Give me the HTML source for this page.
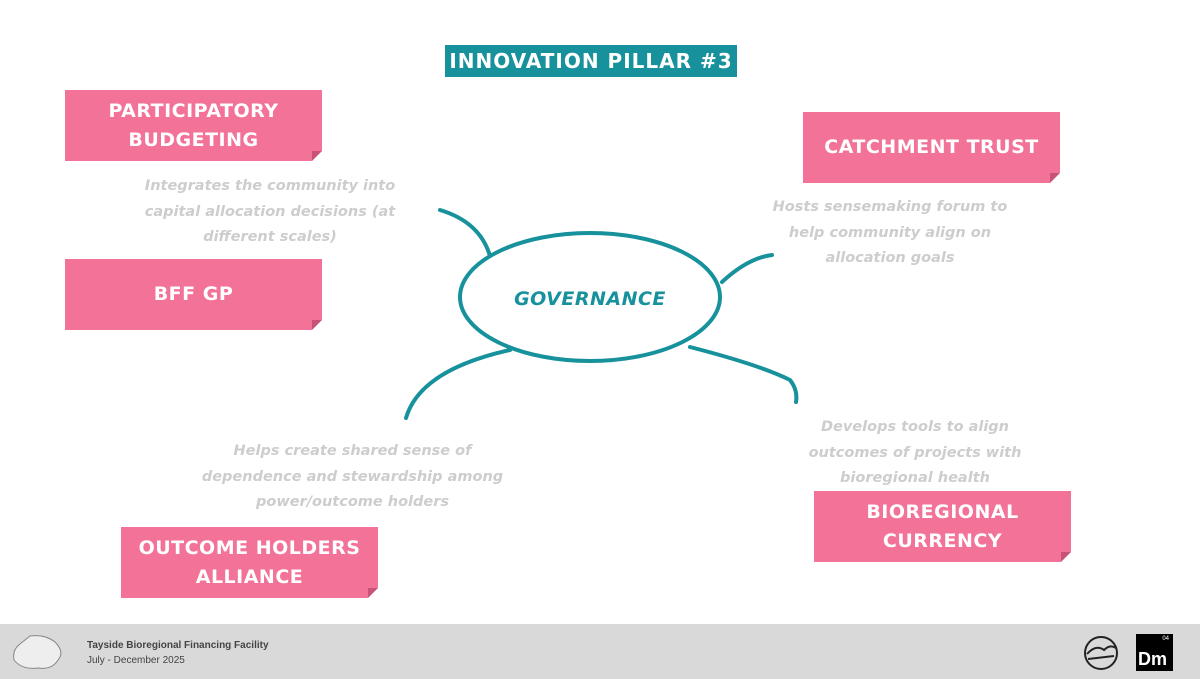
<!DOCTYPE html>
<html><head><meta charset="utf-8"><style>
body{margin:0;width:1200px;height:679px;position:relative;background:#fff;font-family:"DejaVu Sans","Liberation Sans",sans-serif;overflow:hidden}
.b{position:absolute;background:#f27298;color:#fff;font-weight:bold;font-size:19px;letter-spacing:0.5px;display:flex;align-items:center;justify-content:center;text-align:center;line-height:29px;width:257px;height:71px}
.b:after{content:"";position:absolute;right:0;bottom:0;border-style:solid;border-width:0 0 10px 10px;border-color:transparent transparent #fff #c85278}
.t{position:absolute;color:#cdcdcd;font-size:14.5px;text-align:center;line-height:25.5px;font-weight:bold;font-style:italic;letter-spacing:0px;white-space:nowrap}
.f{position:absolute;left:0;top:624px;width:1200px;height:55px;background:#d9d9d9}
</style></head><body>
<div style="position:absolute;left:445px;top:45px;width:292px;height:32px;background:#17919c;color:#fff;font-weight:bold;font-size:20px;letter-spacing:1px;text-align:center;line-height:32px;white-space:nowrap">INNOVATION PILLAR #3</div>
<div class="b" style="left:65px;top:90px">PARTICIPATORY<br>BUDGETING</div>
<div class="b" style="left:803px;top:112px">CATCHMENT TRUST</div>
<div class="b" style="left:65px;top:259px">BFF GP</div>
<div class="b" style="left:121px;top:527px">OUTCOME HOLDERS<br>ALLIANCE</div>
<div class="b" style="left:814px;top:491px">BIOREGIONAL<br>CURRENCY</div>
<div class="t" style="left:130px;top:174px;width:280px">Integrates the community into<br>capital allocation decisions (at<br>different scales)</div>
<div class="t" style="left:760px;top:195px;width:260px">Hosts sensemaking forum to<br>help community align on<br>allocation goals</div>
<div class="t" style="left:195px;top:439px;width:315px">Helps create shared sense of<br>dependence and stewardship among<br>power/outcome holders</div>
<div class="t" style="left:795px;top:415px;width:240px">Develops tools to align<br>outcomes of projects with<br>bioregional health</div>
<svg style="position:absolute;left:0;top:0" width="1200" height="679">
<g fill="none" stroke="#17919c" stroke-width="4" stroke-linecap="round">
<ellipse cx="590" cy="297" rx="130" ry="64"/>
<path d="M440 210 Q480 222 490 256"/>
<path d="M722 282 Q748 258 772 255"/>
<path d="M510 350 Q420 370 406 418"/>
<path d="M690 347 Q760 365 790 380 Q798 390 796 402"/>
</g>
<text x="590" y="305" text-anchor="middle" fill="#17919c" font-family="DejaVu Sans" font-weight="bold" font-style="italic" font-size="19" letter-spacing="0.5">GOVERNANCE</text>
</svg>
<div class="f"></div>
<svg style="position:absolute;left:10px;top:632px" width="55" height="40"><path d="M20 4 Q35 2 45 10 Q55 20 48 28 Q42 38 28 36 Q12 38 4 28 Q2 18 10 12 Z" fill="#eee" stroke="#888" stroke-width="1"/></svg>
<div style="position:absolute;left:87px;top:640px;font-family:'Liberation Sans',sans-serif;font-size:10px;font-weight:bold;color:#444">Tayside Bioregional Financing Facility</div>
<div style="position:absolute;left:87px;top:655px;font-family:'Liberation Sans',sans-serif;font-size:10px;color:#444">July - December 2025</div>
<svg style="position:absolute;left:1082px;top:634px" width="38" height="38"><g fill="none" stroke="#222" stroke-width="2"><circle cx="19" cy="19" r="16"/><path d="M5 20 Q14 10 22 16 Q28 10 34 14"/><path d="M6 25 L32 22"/></g></svg>
<div style="position:absolute;left:1136px;top:634px;width:37px;height:37px;background:#000;color:#fff;font-family:'Liberation Sans',sans-serif"><span style="position:absolute;right:4px;top:2px;font-size:6px">04</span><span style="position:absolute;left:2px;bottom:1px;font-size:18px;font-weight:bold">Dm</span></div>
</body></html>
